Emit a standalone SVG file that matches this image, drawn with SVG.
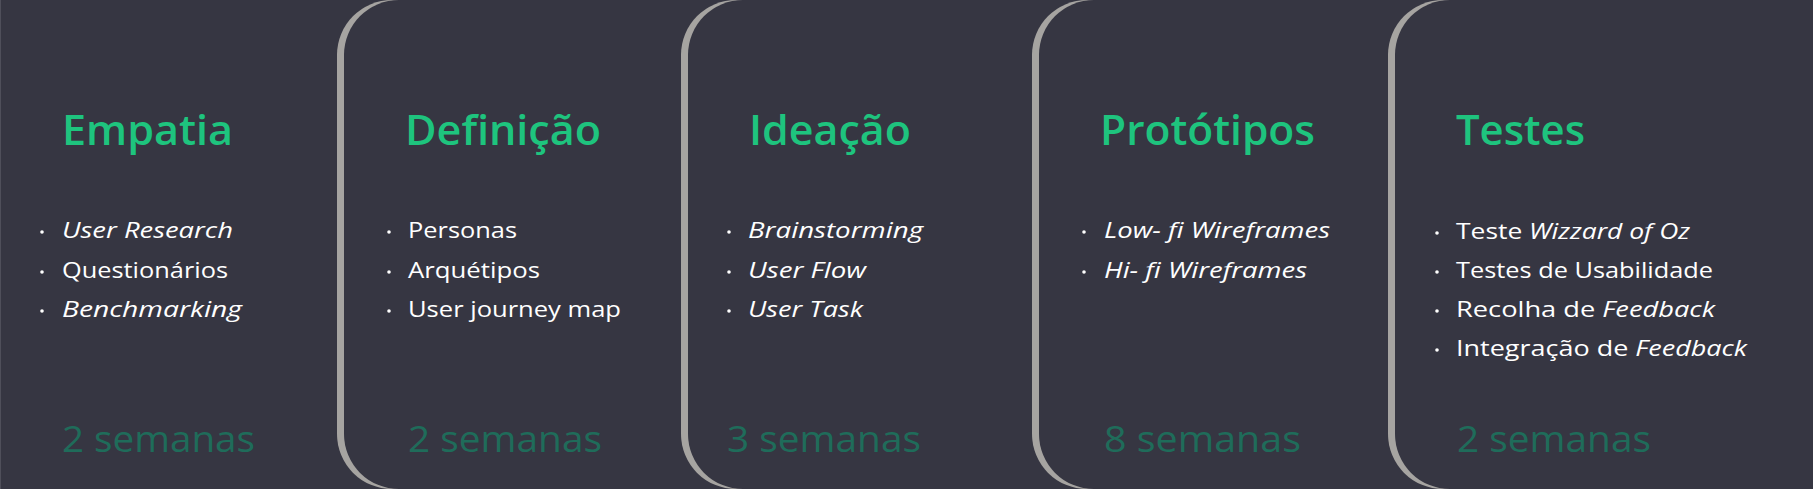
<svg xmlns="http://www.w3.org/2000/svg" width="1813" height="489" viewBox="0 0 1813 489">
<style>
.bg{fill:#363642}
.edge{fill:#a6a4a1}
.panel{fill:#363642}
.title{font-family:"Open Sans","Liberation Sans",sans-serif;font-weight:600;font-size:41px;fill:#1ec47e}
.item{font-family:"Open Sans","Liberation Sans",sans-serif;font-size:22px;fill:#ffffff}
.it{font-style:italic}
.weeks{font-family:"Open Sans","Liberation Sans",sans-serif;font-size:36px;fill:#1f6c5a}
.dot{fill:#ffffff}
</style>
<rect class="bg" x="0" y="0" width="1813" height="489"/>
<line x1="0.5" y1="0" x2="0.5" y2="489" stroke="#4f4f5a" stroke-width="1"/>

<g id="empatia">
  <text class="title" x="62" y="145" textLength="171" lengthAdjust="spacingAndGlyphs">Empatia</text>
  <circle class="dot" cx="42" cy="232" r="1.8"/>
  <text class="item it" x="62" y="238" textLength="171" lengthAdjust="spacingAndGlyphs">User Research</text>
  <circle class="dot" cx="42" cy="272" r="1.8"/>
  <text class="item" x="62" y="278" textLength="166" lengthAdjust="spacingAndGlyphs">Questionários</text>
  <circle class="dot" cx="42" cy="311" r="1.8"/>
  <text class="item it" x="62" y="317" textLength="180" lengthAdjust="spacingAndGlyphs">Benchmarking</text>
  <text class="weeks" x="62" y="452" textLength="193" lengthAdjust="spacingAndGlyphs">2 semanas</text>
</g>

<g id="definicao">
  <rect class="edge" x="337" y="0" width="1600" height="489" rx="55" ry="55"/>
  <rect class="panel" x="344" y="0" width="1600" height="489" rx="55" ry="55"/>
  <text class="title" x="405" y="145" textLength="196" lengthAdjust="spacingAndGlyphs">Definição</text>
  <circle class="dot" cx="389" cy="232" r="1.8"/>
  <text class="item" x="408" y="238" textLength="109" lengthAdjust="spacingAndGlyphs">Personas</text>
  <circle class="dot" cx="389" cy="272" r="1.8"/>
  <text class="item" x="408" y="278" textLength="132" lengthAdjust="spacingAndGlyphs">Arquétipos</text>
  <circle class="dot" cx="389" cy="311" r="1.8"/>
  <text class="item" x="408" y="317" textLength="213" lengthAdjust="spacingAndGlyphs">User journey map</text>
  <text class="weeks" x="408" y="452" textLength="194" lengthAdjust="spacingAndGlyphs">2 semanas</text>
</g>

<g id="ideacao">
  <rect class="edge" x="681" y="0" width="1300" height="489" rx="55" ry="55"/>
  <rect class="panel" x="688" y="0" width="1300" height="489" rx="55" ry="55"/>
  <text class="title" x="749" y="145" textLength="162" lengthAdjust="spacingAndGlyphs">Ideação</text>
  <circle class="dot" cx="729" cy="232" r="1.8"/>
  <text class="item it" x="748" y="238" textLength="175" lengthAdjust="spacingAndGlyphs">Brainstorming</text>
  <circle class="dot" cx="729" cy="272" r="1.8"/>
  <text class="item it" x="748" y="278" textLength="118" lengthAdjust="spacingAndGlyphs">User Flow</text>
  <circle class="dot" cx="729" cy="311" r="1.8"/>
  <text class="item it" x="748" y="317" textLength="115" lengthAdjust="spacingAndGlyphs">User Task</text>
  <text class="weeks" x="727" y="452" textLength="194" lengthAdjust="spacingAndGlyphs">3 semanas</text>
</g>

<g id="prototipos">
  <rect class="edge" x="1032" y="0" width="1000" height="489" rx="55" ry="55"/>
  <rect class="panel" x="1039" y="0" width="1000" height="489" rx="55" ry="55"/>
  <text class="title" x="1100" y="145" textLength="215" lengthAdjust="spacingAndGlyphs">Protótipos</text>
  <circle class="dot" cx="1084" cy="232" r="1.8"/>
  <text class="item it" x="1104" y="238" textLength="226" lengthAdjust="spacingAndGlyphs">Low- fi Wireframes</text>
  <circle class="dot" cx="1084" cy="272" r="1.8"/>
  <text class="item it" x="1104" y="278" textLength="203" lengthAdjust="spacingAndGlyphs">Hi- fi Wireframes</text>
  <text class="weeks" x="1104" y="452" textLength="197" lengthAdjust="spacingAndGlyphs">8 semanas</text>
</g>

<g id="testes">
  <rect class="edge" x="1388" y="0" width="700" height="489" rx="55" ry="55"/>
  <rect class="panel" x="1395" y="0" width="700" height="489" rx="55" ry="55"/>
  <text class="title" x="1456" y="145" textLength="129" lengthAdjust="spacingAndGlyphs">Testes</text>
  <circle class="dot" cx="1437" cy="233" r="1.8"/>
  <text class="item" x="1456" y="239" textLength="234" lengthAdjust="spacingAndGlyphs">Teste <tspan class="it">Wizzard of Oz</tspan></text>
  <circle class="dot" cx="1437" cy="272" r="1.8"/>
  <text class="item" x="1456" y="278" textLength="257" lengthAdjust="spacingAndGlyphs">Testes de Usabilidade</text>
  <circle class="dot" cx="1437" cy="311" r="1.8"/>
  <text class="item" x="1456" y="317" textLength="259" lengthAdjust="spacingAndGlyphs">Recolha de <tspan class="it">Feedback</tspan></text>
  <circle class="dot" cx="1437" cy="350" r="1.8"/>
  <text class="item" x="1456" y="356" textLength="291" lengthAdjust="spacingAndGlyphs">Integração de <tspan class="it">Feedback</tspan></text>
  <text class="weeks" x="1457" y="452" textLength="194" lengthAdjust="spacingAndGlyphs">2 semanas</text>
</g>
</svg>
